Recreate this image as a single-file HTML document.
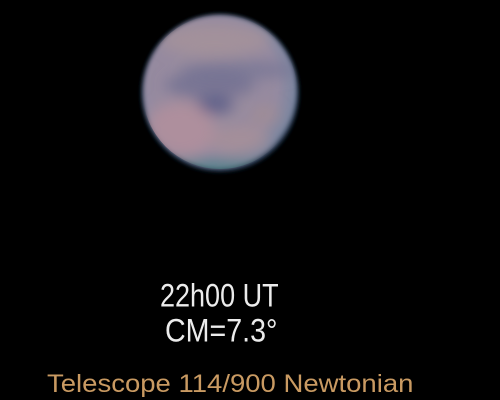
<!DOCTYPE html>
<html><head><meta charset="utf-8"><style>
html,body{margin:0;padding:0;background:#000;}
#stage{position:relative;width:500px;height:400px;background:#000;overflow:hidden;font-family:"Liberation Sans",sans-serif;}
.lbl{position:absolute;color:#ececec;font-size:27px;line-height:1;white-space:nowrap;transform-origin:0 0;}
</style></head><body>
<div id="stage">
<svg width="500" height="400" style="position:absolute;left:0;top:0">
<defs>
<filter id="b8"><feGaussianBlur stdDeviation="7"/></filter>
<filter id="b3"><feGaussianBlur stdDeviation="2"/></filter>
<radialGradient id="disc" cx="0.45" cy="0.45" r="0.6">
<stop offset="0" stop-color="#9a8c9c"/>
<stop offset="0.7" stop-color="#958aa0"/>
<stop offset="0.9" stop-color="#7c86a0"/>
<stop offset="1" stop-color="#26384e"/>
</radialGradient>
<clipPath id="cp"><circle cx="220" cy="92" r="77"/></clipPath>
</defs>
<circle cx="220" cy="93" r="79" fill="#14263a" filter="url(#b3)"/>
<circle cx="220" cy="92" r="77" fill="url(#disc)" filter="url(#b3)"/>
<g clip-path="url(#cp)" filter="url(#b8)">
<ellipse cx="215" cy="40" rx="55" ry="16" fill="#a89498" opacity="0.7"/>
<ellipse cx="240" cy="70" rx="60" ry="9" fill="#747494" opacity="0.7"/>
<ellipse cx="210" cy="85" rx="45" ry="14" fill="#6c6c90" opacity="0.7"/>
<ellipse cx="215" cy="105" rx="18" ry="9" fill="#5c5e88" opacity="0.9"/>
<ellipse cx="180" cy="130" rx="35" ry="28" fill="#b4909c" opacity="0.8"/>
<ellipse cx="240" cy="140" rx="30" ry="15" fill="#ae9296" opacity="0.6"/>
<ellipse cx="265" cy="115" rx="15" ry="10" fill="#a89090" opacity="0.5"/>
<ellipse cx="215" cy="172" rx="65" ry="12" fill="#4a8080" opacity="0.6"/>
</g>
</svg>
<div class="lbl" style="left:160px;top:280px;transform:scaleY(1.2)">22h00 UT</div>
<div class="lbl" style="left:165px;top:315px;transform:scale(1.06,1.2)">CM=7.3°</div>
<div class="lbl" style="left:47px;top:372px;color:#c99a62;font-size:25px;transform:scaleX(1.1)">Telescope 114/900 Newtonian</div>
</div>
</body></html>
